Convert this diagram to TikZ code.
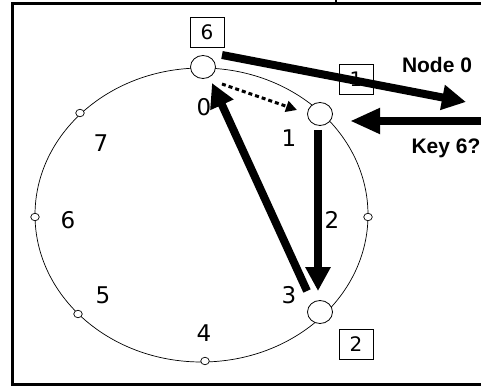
\documentclass[tikz,border=0pt]{standalone}
\usepackage{fontspec}
\setmainfont{DejaVu Sans}
\newfontfamily\labfont{Liberation Sans}
\usetikzlibrary{arrows.meta,shapes.geometric}
\tikzset{
  peer/.style={draw, ellipse, fill=white, line width=0.8pt, minimum width=25pt, minimum height=23pt, inner sep=0pt},
  slot/.style={draw, ellipse, fill=white, line width=0.7pt, minimum width=8.5pt, minimum height=7.5pt, inner sep=0pt},
  idbox/.style={draw, line width=0.7pt, minimum width=34pt, minimum height=30pt, inner sep=0pt, font=\fontsize{20}{20}\selectfont},
  num/.style={font=\fontsize{23}{23}\selectfont, inner sep=0pt},
  msg/.style={font=\labfont\bfseries\fontsize{21}{21}\selectfont, inner sep=0pt},
  hop/.style={line width=8pt, -{Triangle[length=24pt,width=24pt]}},
  probe/.style={line width=3pt, dash pattern=on 4pt off 3pt, -{Triangle[length=11pt,width=11pt]}},
}
\begin{document}
\begin{tikzpicture}[x=1pt,y=-1pt]
\useasboundingbox (0,0) rectangle (481,387);
\draw[line width=3pt] (495,3.5) -- (12.5,3.5) -- (12.5,384) -- (495,384);
\draw[line width=2pt] (336,0) -- (336,3);
% ring
\draw[line width=0.7pt] (201.5,215) ellipse [x radius=166.5pt, y radius=147pt];
% nodes on ring
\node[peer] (p0) at (203,67) {};
\node[peer] (p1) at (320,114) {};
\node[peer] (p3) at (320,312) {};
\node[slot] (s7) at (80,113) {};
\node[slot] (s6) at (35,217) {};
\node[slot] (s2) at (368,217) {};
\node[slot] (s5) at (78,314) {};
\node[slot] (s4) at (205,361) {};
% ids
\node[num] (l0) at (204,107) {0};
\node[num] (l1) at (289,138) {1};
\node[num] (l7) at (101,143) {7};
\node[num] (l6) at (68,220) {6};
\node[num] (l5) at (103,295) {5};
\node[num] (l4) at (204,333) {4};
\node[num] (l3) at (289,295) {3};
\node[num] (lh) at (332,220) {2};
% step boxes
\node[idbox] (b6) at (207,32.5) {6};
\node[idbox] (b1) at (356,79) {1};
\node[idbox] (b2) at (356,344) {2};
% messages
\node[msg] (m0) at (437,65) {Node 0};
\node[msg] (m1) at (446,148) {Key 6?};
% arrow ends
\coordinate (a1s) at (222,55);  \coordinate (a1e) at (466,102);
\coordinate (a2s) at (481,121); \coordinate (a2e) at (350,121);
\coordinate (a3s) at (318,130); \coordinate (a3e) at (318,291);
\coordinate (a4s) at (307,291); \coordinate (a4e) at (212,83);
\coordinate (a5s) at (222,84);  \coordinate (a5e) at (297,110);
\draw[hop] (a1s) -- (a1e);
\draw[line width=8pt, -{Triangle[length=30pt,width=24pt]}] (a2s) -- (a2e);
\draw[hop] (a3s) -- (a3e);
\draw[hop] (a4s) -- (a4e);
\draw[probe] (a5s) -- (a5e);
\end{tikzpicture}
\end{document}
